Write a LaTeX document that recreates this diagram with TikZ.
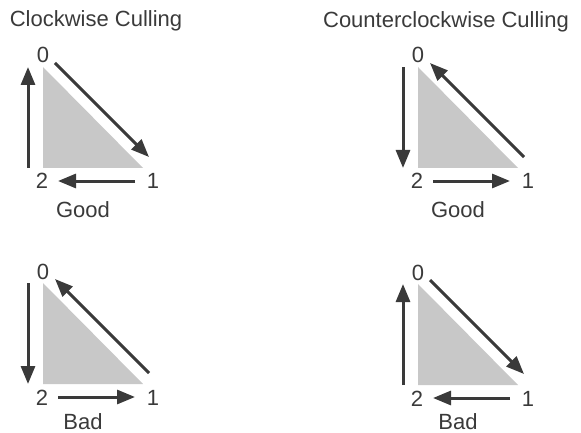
\documentclass[tikz,border=0pt]{standalone}
\usepackage{fontspec}
\setmainfont{Liberation Sans}
\usetikzlibrary{arrows.meta}
\definecolor{inkgray}{HTML}{3A3A3A}
\definecolor{facegray}{HTML}{C8C8C8}

\begin{document}
\begin{tikzpicture}[
  x=1pt,y=-1pt,
  every node/.style={font=\fontsize{22}{26}\selectfont,text=inkgray,inner sep=0pt,anchor=base},
  face/.style={fill=facegray,draw=none},
  arrow/.style={line width=3pt,draw=inkgray,>={Triangle[length=18pt,width=14pt]}}
]
\useasboundingbox (0,0) rectangle (581,433);

\node (cwtitle) at (96,27) {Clockwise Culling};
\node (ccwtitle) at (446,28) {Counterclockwise Culling};

% panel name / offset / winding / verdict / verdict baseline
\foreach \p/\px/\py/\dir/\word/\wy in {cwgood/43/67/->/Good/150, ccwgood/418/67/<-/Good/150,
                                       cwbad/43/283/<-/Bad/146, ccwbad/418/284/->/Bad/145}{
  \begin{scope}[shift={(\px,\py)}]
    \coordinate (\p-v0) at (0,0);
    \coordinate (\p-v1) at (100,101);
    \coordinate (\p-v2) at (0,101);
    \fill[face] (\p-v0) -- (\p-v1) -- (\p-v2) -- cycle;

    \node (\p-0) at (0,-4) {0};
    \node (\p-1) at (110,122) {1};
    \node (\p-2) at (-1,122) {2};
    \node[text depth=0pt] (\p-word) at (40,\wy) {\word};

    \coordinate (\p-a) at (12,-4);
    \coordinate (\p-b) at (106,90);
    \coordinate (\p-c) at (92,114);
    \coordinate (\p-d) at (15,114);
    \coordinate (\p-e) at (-15,101);
    \coordinate (\p-f) at (-15,0);

    \draw[arrow,\dir] (\p-a) -- (\p-b);
    \draw[arrow,\dir] (\p-c) -- (\p-d);
    \draw[arrow,\dir] (\p-e) -- (\p-f);
  \end{scope}
}
\end{tikzpicture}
\end{document}
